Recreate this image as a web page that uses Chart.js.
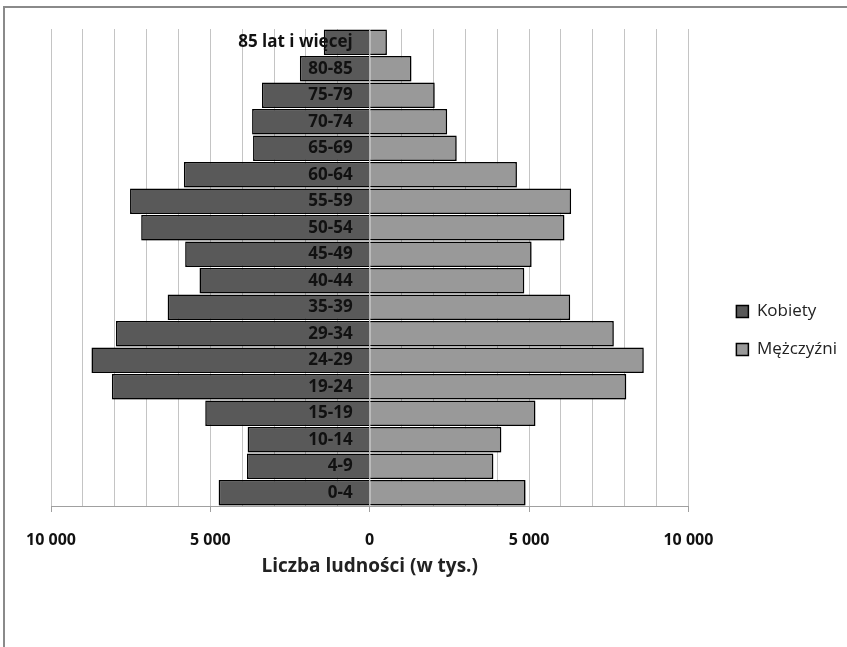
<!DOCTYPE html>
<html>
<head>
<meta charset="utf-8">
<script src="https://cdn.jsdelivr.net/npm/chart.js@4/dist/chart.umd.min.js"></script>
<style>
  html, body { margin: 0; padding: 0; background: #fff; }
  #wrap { position: relative; width: 847px; height: 647px; }
  #frame {
    position: absolute; left: 3px; top: 6px; right: 0; bottom: 0;
    border-top: 2px solid #8a8a8a; border-left: 2px solid #8a8a8a;
    pointer-events: none;
  }
</style>
</head>
<body>
<div id="wrap">
  <canvas id="pyramid" width="847" height="647"></canvas>
  <div id="frame"></div>
</div>
<script>
// age groups, top of the pyramid first
const ageGroups = ['85 lat i więcej', '80-85', '75-79', '70-74', '65-69', '60-64', '55-59', '50-54',
  '45-49', '40-44', '35-39', '29-34', '24-29', '19-24', '15-19', '10-14', '4-9', '0-4'];
// population in thousands
const kobiety = [1440, 2190, 3380, 3690, 3660, 5830, 7520, 7170, 5790, 5340, 6340, 7960, 8730, 8090, 5160, 3830, 3850, 4740];
const mezczyzni = [540, 1310, 2040, 2430, 2730, 4620, 6320, 6110, 5080, 4850, 6290, 7660, 8600, 8050, 5200, 4130, 3880, 4890];
const labeledTicks = [-10000, -5000, 0, 5000, 10000];

const FONT = "'Open Sans', 'DejaVu Sans', sans-serif";

function fmt(v) {
    return String(Math.abs(v)).replace(/\B(?=(\d{3})+(?!\d))/g, ' ');
}

// soft drop shadow under the bars, like the Excel original
const barShadow = {
    id: 'barShadow',
    beforeDatasetsDraw(chart) {
        const ctx = chart.ctx;
        ctx.save();
        ctx.shadowColor = 'rgba(0,0,0,0.35)';
        ctx.shadowBlur = 3;
        ctx.shadowOffsetX = 1.5;
        ctx.shadowOffsetY = 1.5;
    },
    afterDatasetsDraw(chart) {
        chart.ctx.restore();
    }
};

new Chart(document.getElementById('pyramid'), {
    type: 'bar',
    data: {
        labels: ageGroups,
        datasets: [
            {
                label: 'Kobiety',
                data: kobiety.map(v => -v),
                backgroundColor: '#595959',
                borderColor: '#000',
                borderWidth: 1.5
            },
            {
                label: 'Mężczyźni',
                data: mezczyzni,
                backgroundColor: '#999999',
                borderColor: '#000',
                borderWidth: 1.5
            }
        ]
    },
    options: {
        indexAxis: 'y',
        responsive: false,
        animation: false,
        devicePixelRatio: 1,
        layout: { padding: { top: 29, left: 51, right: 0, bottom: 15 } },
        datasets: {
            bar: { grouped: false, categoryPercentage: 1, barPercentage: 0.96 }
        },
        scales: {
            x: {
                min: -10000,
                max: 10000,
                grid: {
                    color: '#c4c4c4',
                    lineWidth: 1,
                    tickLength: 6,
                    tickColor: c => (labeledTicks.includes(c.tick.value) ? '#a0a0a0' : 'rgba(0,0,0,0)')
                },
                border: { color: '#a0a0a0', width: 1 },
                ticks: {
                    stepSize: 1000,
                    autoSkip: false,
                    maxRotation: 0,
                    padding: 19,
                    color: '#111',
                    font: { family: FONT, size: 16, weight: 'bold' },
                    callback: v => (labeledTicks.includes(v) ? fmt(v) : '')
                },
                title: {
                    display: true,
                    text: 'Liczba ludności (w tys.)',
                    color: '#222',
                    font: { family: FONT, size: 19, weight: 'bold' },
                    padding: { top: -14, bottom: 54 }
                }
            },
            y: {
                // labels sit just left of the zero line, as in the original
                position: { x: -535 },
                grid: { display: false, drawTicks: false },
                border: { display: false },
                ticks: {
                    z: 1,
                    autoSkip: false,
                    padding: 0,
                    color: '#111',
                    font: { family: FONT, size: 17, weight: 'bold' }
                }
            },
            gap: {
                type: 'linear',
                axis: 'y',
                position: 'right',
                grid: { display: false },
                border: { display: false },
                ticks: { display: false },
                afterFit: s => { s.width = 27; }
            }
        },
        plugins: {
            legend: {
                position: 'right',
                labels: {
                    boxWidth: 12,
                    boxHeight: 12,
                    padding: 21,
                    color: '#222',
                    font: { family: FONT, size: 17 }
                }
            },
            tooltip: { enabled: false }
        }
    },
    plugins: [barShadow]
});
</script>
</body>
</html>
